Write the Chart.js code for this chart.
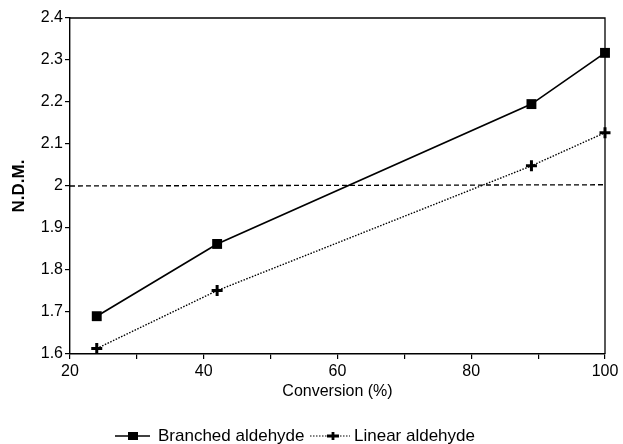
<!DOCTYPE html>
<html>
<head>
<meta charset="utf-8">
<script src="https://cdn.jsdelivr.net/npm/chart.js@4.4.1/dist/chart.umd.min.js"></script>
<style>
  html, body { margin: 0; padding: 0; background: #fff; }
  #wrap { width: 623px; height: 444px; }
</style>
</head>
<body>
<div id="wrap"><canvas id="chartCanvas" width="623" height="444"></canvas></div>
<script>
const conversion = [24, 42, 89, 100];
const branched = [1.69, 1.862, 2.195, 2.317];
const linear = [1.613, 1.751, 2.048, 2.127];
const refX = [20, 100];
const refY = [2.0, 2.003];
const legendNames = ['Branched aldehyde', 'Linear aldehyde'];

const FONT = '"Liberation Sans", Arial, Helvetica, sans-serif';
const INK = '#000';

function toPoints(xs, ys){
    return xs.map((x, i) => ({ x: x, y: ys[i] }));
}

// top + right border of the plot box
const framePlugin = {
    id: 'frame',
    beforeDatasetsDraw(chart){
        const a = chart.chartArea, c = chart.ctx;
        c.save();
        c.strokeStyle = INK;
        c.lineWidth = 1.3;
        c.beginPath();
        c.moveTo(a.left, a.top);
        c.lineTo(a.right, a.top);
        c.lineTo(a.right, a.bottom);
        c.stroke();
        c.restore();
    }
};

// legend under the axis title: line + marker + name
const legendPlugin = {
    id: 'lineLegend',
    afterDraw(chart){
        const c = chart.ctx;
        const y = 436;
        c.save();
        c.strokeStyle = INK;
        c.fillStyle = INK;
        // branched
        c.lineWidth = 1.6;
        c.setLineDash([]);
        c.beginPath(); c.moveTo(115, y); c.lineTo(150, y); c.stroke();
        c.fillRect(128, y - 4, 10, 8);
        // linear
        c.lineWidth = 1.2;
        c.setLineDash([1.5, 1.5]);
        c.beginPath(); c.moveTo(310, y); c.lineTo(350, y); c.stroke();
        c.setLineDash([]);
        c.lineWidth = 2.8;
        c.beginPath();
        c.moveTo(327, y); c.lineTo(339, y);
        c.moveTo(333, y - 4); c.lineTo(333, y + 4);
        c.stroke();
        c.font = '17px ' + FONT;
        c.textBaseline = 'middle';
        c.fillText(legendNames[0], 158, y);
        c.fillText(legendNames[1], 354, y);
        c.restore();
    }
};

const ctx = document.getElementById('chartCanvas').getContext('2d');
const chart = new Chart(ctx, {
    type: 'line',
    data: {
        datasets: [
            { label: legendNames[0], data: toPoints(conversion, branched), borderColor: INK, backgroundColor: INK,
              borderWidth: 1.7, pointStyle: 'rect', pointRadius: 7, pointBorderWidth: 0, tension: 0, clip: false },
            { label: legendNames[1], data: toPoints(conversion, linear), borderColor: INK, backgroundColor: INK,
              borderWidth: 1.4, borderDash: [1.5, 1.5], pointStyle: 'cross', pointRadius: 5.5, pointBorderWidth: 3, tension: 0, clip: false },
            { label: 'N.D.M. = 2', data: toPoints(refX, refY), borderColor: INK, borderWidth: 1.3,
              borderDash: [5, 3], pointRadius: 0, tension: 0 }
        ]
    },
    options: {
        responsive: false,
        animation: false,
        devicePixelRatio: 1,
        layout: { padding: { top: 18, right: 18, left: 0, bottom: 40 } },
        plugins: { legend: { display: false }, tooltip: { enabled: false } },
        scales: {
            x: {
                type: 'linear', min: 20, max: 100,
                afterFit: s => { s.height = 50; },
                grid: { drawOnChartArea: false, drawTicks: true, tickLength: 5, tickColor: INK, lineWidth: 1.2 },
                border: { display: true, color: INK, width: 1.4 },
                ticks: { stepSize: 10, autoSkip: false, maxRotation: 0, padding: 3, color: INK,
                         font: { family: FONT, size: 16 },
                         callback: v => (v % 20 === 0 ? String(v) : '') },
                title: { display: true, text: 'Conversion (%)', color: INK, font: { family: FONT, size: 16 },
                         padding: { top: 0, bottom: 3 } }
            },
            y: {
                min: 1.6, max: 2.4,
                afterFit: s => { s.width = 70; },
                grid: { drawOnChartArea: false, drawTicks: true, tickLength: 5, tickColor: INK, lineWidth: 1.2 },
                border: { display: true, color: INK, width: 1.4 },
                ticks: { stepSize: 0.1, padding: 2, color: INK, font: { family: FONT, size: 16 },
                         callback: v => String(+v.toFixed(1)) },
                title: { display: true, text: 'N.D.M.', color: INK, font: { family: FONT, size: 17, weight: 'bold' },
                         padding: { top: 9, bottom: 0 } }
            }
        }
    },
    plugins: [framePlugin, legendPlugin]
});
</script>
</body>
</html>
